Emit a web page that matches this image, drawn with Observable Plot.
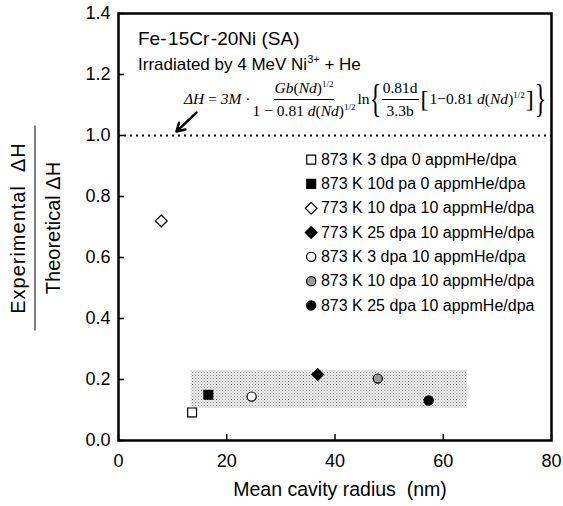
<!DOCTYPE html>
<html>
<head>
<meta charset="utf-8">
<script src="https://cdn.jsdelivr.net/npm/d3@7"></script>
<script src="https://cdn.jsdelivr.net/npm/@observablehq/plot@0.6"></script>
<style>
  html, body { margin: 0; padding: 0; background: white; }
  #c { position: relative; width: 563px; height: 506px; font-family: "Liberation Sans", Arial, sans-serif; color: black; }
  .ov { position: absolute; white-space: nowrap; line-height: 1; }
  #formula { font-family: "Liberation Serif", "Times New Roman", serif; font-size: 15.5px; display: flex; align-items: center; }
  .frac { display: inline-flex; flex-direction: column; align-items: center; margin: 0 1px; }
  .frac > .num { border-bottom: 1px solid black; padding: 0 1px 3px 1px; }
  .frac > .den { padding: 3px 1px 0 1px; }
  .brace { font-size: 40px; transform: scaleX(0.6); display: inline-block; font-weight: 300; margin: 0 -4px; }
  .brk { font-size: 24px; display: inline-block; margin: 0 1px; }
  sup.h { font-size: 9px; vertical-align: 6px; }
</style>
</head>
<body>
<div id="c"></div>
<script>
// ---- data ----
const labels = [
  "873 K 3 dpa 0 appmHe/dpa",
  "873 K 10d pa 0 appmHe/dpa",
  "773 K 10 dpa 10 appmHe/dpa",
  "773 K 25 dpa 10 appmHe/dpa",
  "873 K 3 dpa 10 appmHe/dpa",
  "873 K 10 dpa 10 appmHe/dpa",
  "873 K 25 dpa 10 appmHe/dpa"
];
const radius = [13.6, 16.6, 7.9, 36.8, 24.6, 47.9, 57.3];
const ratio  = [0.092, 0.150, 0.720, 0.216, 0.144, 0.203, 0.131];
const symbolNames = ["square", "square", "diamond2", "diamond2", "circle", "circle", "circle"];
const fillColors  = ["white", "black", "white", "black", "white", "#9a9a9a", "black"];
const xTicks = [0, 20, 40, 60, 80];
const yTicks = [0, 0.2, 0.4, 0.6, 0.8, 1.0, 1.2, 1.4];
const bandX = [13.4, 64.5];
const bandY = [0.105, 0.23];
const theoryLine = [1.0];
const arrowSeg = [{x1: 14.4, y1: 1.075, x2: 10.7, y2: 1.013}];
const xTitle = "Mean cavity radius\u00a0 (nm)";

const points = labels.map((s, i) => ({series: s, x: radius[i], y: ratio[i], i}));
const legendTop = 0.921, legendStep = 0.0797;
const legendRows = labels.map((s, i) => ({series: s, i}));
const symR = d => symbolNames[d.i] === "circle" ? 4.6 : symbolNames[d.i] === "square" ? 5.0 : 5.3;

const chart = Plot.plot({
  width: 563, height: 506,
  marginLeft: 118, marginRight: 12, marginTop: 13, marginBottom: 66,
  x: {domain: [0, 80]},
  y: {domain: [0, 1.4]},
  r: {type: "identity"},
  symbol: {domain: labels, range: symbolNames},
  color: {domain: labels, range: fillColors},
  style: {fontFamily: "'Liberation Sans', Arial, sans-serif", fontSize: "18px", color: "black", background: "white", overflow: "visible"},
  marks: [
    Plot.rect([{x1: bandX[0], x2: bandX[1], y1: bandY[0], y2: bandY[1]}], {x1: "x1", x2: "x2", y1: "y1", y2: "y2", fill: "url(#stip)"}),
    Plot.ruleY(theoryLine, {stroke: "black", strokeWidth: 2, strokeDasharray: "2,4"}),
    Plot.arrow(arrowSeg, {x1: "x1", y1: "y1", x2: "x2", y2: "y2", stroke: "black", strokeWidth: 2.5, headLength: 9}),
    Plot.axisX({ticks: xTicks, tickSize: -6, tickPadding: 20, tickFormat: d => String(d), label: null, strokeWidth: 1.5}),
    Plot.axisY({ticks: yTicks, tickSize: -6, tickPadding: 14, tickFormat: d => d.toFixed(1), label: null, strokeWidth: 1.5}),
    Plot.frame({stroke: "black", strokeWidth: 2.5}),
    Plot.text([xTitle], {frameAnchor: "bottom", dx: 5, dy: 55, fontSize: 19.5, text: d => d}),
    Plot.dot(points, {x: "x", y: "y", symbol: "series", fill: "series", stroke: "black", strokeWidth: 1.2, r: symR}),
    Plot.dot(legendRows, {x: () => 35.6, y: d => legendTop - legendStep * d.i, symbol: "series", fill: "series", stroke: "black", strokeWidth: 1.2, r: symR}),
    Plot.text(legendRows, {x: () => 37.4, y: d => legendTop - legendStep * d.i, text: "series", textAnchor: "start", fontSize: 16})
  ]
});

d3.select(chart).insert("defs", ":first-child").html(
  '<pattern id="stip" width="3" height="3" patternUnits="userSpaceOnUse">' +
  '<rect width="3" height="3" fill="#f2f2f2"/><rect x="0" y="0" width="1" height="1" fill="#888"/>' +
  '<rect x="1.5" y="1.5" width="1" height="1" fill="#a0a0a0"/></pattern>'
);

const c = document.getElementById("c");
c.appendChild(chart);

const title = document.createElement("div");
title.className = "ov";
title.style.cssText = "left:138px; top:29px; font-size:19px;";
title.textContent = "Fe-\u200a15Cr\u200a-20Ni (SA)";
c.appendChild(title);

const sub = document.createElement("div");
sub.className = "ov";
sub.style.cssText = "left:138px; top:54px; font-size:17px;";
sub.innerHTML = 'Irradiated by 4 MeV Ni<sup style="font-size:11px; vertical-align:7px;">3+</sup> + He';
c.appendChild(sub);

const f = document.createElement("div");
f.id = "formula";
f.className = "ov";
f.style.cssText = "left:184px; top:79px;";
f.innerHTML =
  '<span><i>ΔH</i> = <i>3M</i> ·</span>' +
  '<span class="frac"><span class="num"><i>Gb</i>(<i>Nd</i>)<sup class="h">1/2</sup></span>' +
  '<span class="den">1 − 0.81 <i>d</i>(<i>Nd</i>)<sup class="h">1/2</sup></span></span>' +
  '<span>ln</span><span class="brace">{</span>' +
  '<span class="frac"><span class="num">0.81d</span><span class="den">3.3b</span></span>' +
  '<span class="brk">[</span><span>1−0.81 <i>d</i>(<i>Nd</i>)<sup class="h">1/2</sup></span><span class="brk">]</span>' +
  '<span class="brace">}</span>';
c.appendChild(f);

const yl = document.createElement("div");
yl.className = "ov";
yl.style.cssText = "left:35px; top:228px; width:205px; font-size:20px; text-align:center; transform: translate(-50%,-50%) rotate(-90deg); line-height:34px;";
yl.innerHTML = '<div style="border-bottom:1.5px solid black; letter-spacing:1px;">Experimental\u00a0 \u0394H</div><div>Theoretical \u0394H</div>';
c.appendChild(yl);
</script>
</body>
</html>
